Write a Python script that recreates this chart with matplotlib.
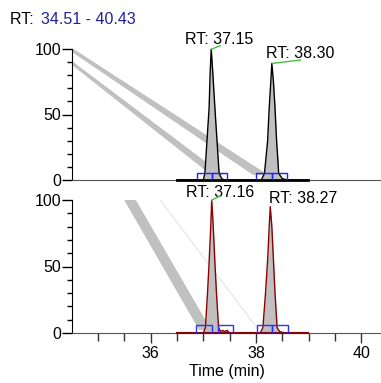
import numpy as np
import matplotlib
matplotlib.use('Agg')
import matplotlib.pyplot as plt
from matplotlib.patches import Rectangle, Polygon

plt.rcParams['font.family'] = ['Liberation Sans', 'DejaVu Sans']

# time range of the chromatogram (min)
t_range = (34.51, 40.37)
rt_text = "34.51 - 40.43"

# top trace (black)
top_t = [36.50, 37.00, 37.03, 37.07, 37.11, 37.13, 37.15, 37.18, 37.22, 37.26, 37.30, 37.35, 37.40,
         38.10, 38.16, 38.22, 38.25, 38.28, 38.30, 38.33, 38.36, 38.39, 38.43, 38.50, 38.60, 38.99]
top_i = [0, 0, 5, 30, 55, 82, 100, 82, 55, 30, 5, 1, 0,
         0, 5, 30, 55, 75, 89, 75, 55, 30, 5, 1, 0, 0]

# bottom trace (dark red)
bot_t = [36.50, 37.00, 37.04, 37.08, 37.11, 37.14, 37.16, 37.19, 37.22, 37.25, 37.29, 37.33, 37.37, 37.41, 37.45, 37.50,
         38.08, 38.13, 38.18, 38.22, 38.25, 38.27, 38.30, 38.33, 38.36, 38.40, 38.45, 38.55, 38.99]
bot_i = [0, 0, 4, 30, 53, 79, 100, 79, 53, 30, 4, 1, 2, 1, 2, 0,
         0, 4, 30, 55, 80, 95, 80, 55, 30, 4, 1, 0, 0]

# peak labels
top_labels = ["RT: 37.15", "RT: 38.30"]
bot_labels = ["RT: 37.16", "RT: 38.27"]
top_apex = [(37.16, 100), (38.31, 89)]
bot_apex = [(37.16, 100), (38.27, 95)]

# integration boxes (start, end)
top_boxes = [(36.88, 37.17), (37.17, 37.45), (38.00, 38.31), (38.31, 38.59)]
bot_boxes = [(36.86, 37.17), (37.28, 37.56), (38.02, 38.31), (38.31, 38.60)]

# gray streaks
top_band_a = [(34.51, 100.8), (38.23, 3.8), (37.945, 3.8), (34.51, 97.7)]
top_band_b = [(34.51, 90.8), (37.38, 3.8), (37.15, 3.8), (34.51, 87.8)]
bot_band = [(35.50, 100), (35.72, 100), (37.15, 2.3), (36.92, 2.3)]
bot_faint = [(36.18, 100), (38.02, 3.8)]

W, H = 381, 383
fig = plt.figure(figsize=(W / 100, H / 100), dpi=100)
ax1 = fig.add_axes([72 / W, (H - 180) / H, (W - 72) / W, 131 / H])
ax2 = fig.add_axes([72 / W, (H - 333) / H, (W - 72) / W, 133 / H])

FS = 11.5
gray_fill = '#c0c0c0'

for ax in (ax1, ax2):
    ax.set_xlim(*t_range)
    ax.set_ylim(0, 100)
    ax.spines['top'].set_visible(False)
    ax.spines['right'].set_visible(False)
    ax.spines['left'].set_color('black')
    ax.spines['bottom'].set_color('#555555')
    ax.set_yticks([0, 50, 100])
    ax.set_yticks(np.arange(0, 101, 10), minor=True)
    ax.tick_params(axis='y', which='major', length=7, width=1, pad=1, labelsize=FS)
    ax.tick_params(axis='y', which='minor', length=3.6, width=1)
    ax.patch.set_alpha(0)

ax1.set_xticks([])
ax1.tick_params(axis='x', which='both', length=0, labelbottom=False)
ax2.set_xticks([36, 38, 40])
ax2.set_xticks(np.arange(35, 40.4, 0.5), minor=True)
ax2.tick_params(axis='x', which='major', length=7.2, width=1, pad=2, labelsize=FS, color='#333333')
ax2.tick_params(axis='x', which='minor', length=5.4, width=1, color='#333333')
ax2.set_xlabel("Time (min)", fontsize=FS, labelpad=2)

# streaks
ax1.add_patch(Polygon(top_band_a, closed=True, color=gray_fill, lw=0, zorder=1))
ax1.add_patch(Polygon(top_band_b, closed=True, color=gray_fill, lw=0, zorder=1))
ax2.add_patch(Polygon(bot_band, closed=True, color=gray_fill, lw=0, zorder=1))
ax2.plot([p[0] for p in bot_faint], [p[1] for p in bot_faint], color='#e4e4e4', lw=0.8, zorder=1)

# traces
ax1.fill_between(top_t, top_i, 0, color=gray_fill, lw=0, zorder=2)
ax1.plot(top_t, top_i, color='black', lw=1.0, zorder=3)
ax1.plot([top_t[0], top_t[-1]], [0, 0], color='black', lw=2, zorder=3, clip_on=False)
ax2.fill_between(bot_t, bot_i, 0, color=gray_fill, lw=0, zorder=2)
ax2.plot(bot_t, bot_i, color='#8b0000', lw=1.0, zorder=3)
ax2.plot([bot_t[0], bot_t[-1]], [0, 0], color='#8b0000', lw=1.5, zorder=3, clip_on=False)

for (a, b) in top_boxes:
    ax1.add_patch(Rectangle((a, 0), b - a, 5.3, fill=False, ec='#2020ff', lw=1, zorder=4))
for (a, b) in bot_boxes:
    ax2.add_patch(Rectangle((a, 0), b - a, 6.0, fill=False, ec='#3030ff', lw=1, zorder=4))

# labels with leader lines
ax1.plot([top_apex[0][0], 37.32], [top_apex[0][1], 102.5], color='#40c040', lw=1, clip_on=False, zorder=5)
ax1.plot([top_apex[1][0], 38.84], [top_apex[1][1], 91.6], color='#40c040', lw=1, clip_on=False, zorder=5)
ax2.plot([bot_apex[0][0], 37.32], [bot_apex[0][1], 103], color='#40c040', lw=1, clip_on=False, zorder=5)

ax1.text(36.65, 107.6, top_labels[0], fontsize=FS, va='center', ha='left', clip_on=False)
ax1.text(38.19, 96.6, top_labels[1], fontsize=FS, va='center', ha='left', clip_on=False)
ax2.text(36.67, 106.0, bot_labels[0], fontsize=FS, va='center', ha='left', clip_on=False)
ax2.text(38.25, 101.5, bot_labels[1], fontsize=FS, va='center', ha='left', clip_on=False)

fig.text(10 / W, 1 - 19.5 / H, "RT: ", fontsize=FS, va='center', ha='left')
fig.text(40.7 / W, 1 - 19.5 / H, rt_text, fontsize=FS, va='center', ha='left', color='#2020a0')

fig.savefig("out.png", dpi=100)
